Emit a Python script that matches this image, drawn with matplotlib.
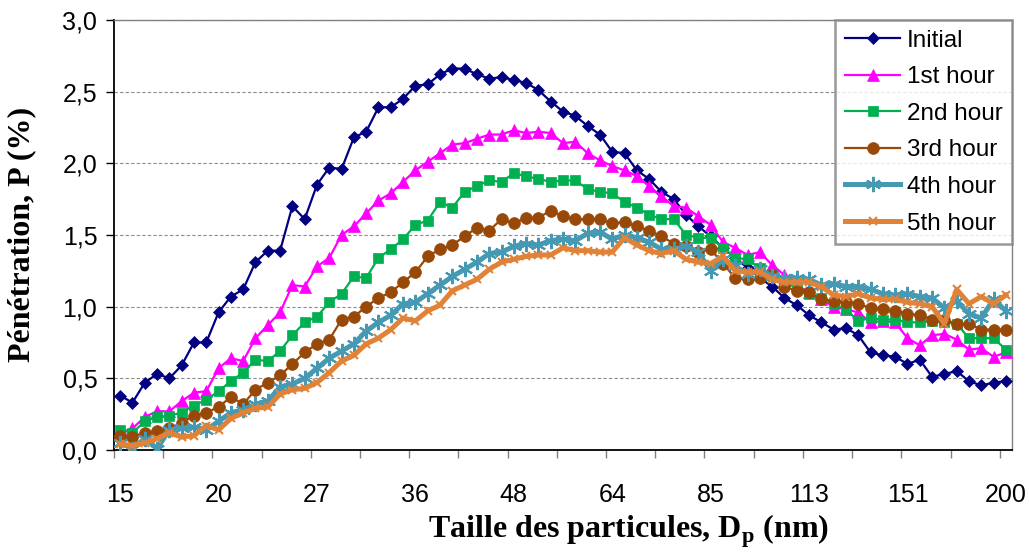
import matplotlib
matplotlib.use("Agg")
import matplotlib.pyplot as plt
import numpy as np

# Particle diameters (nm), SMPS channels (64 per decade)
diameters = [15.05, 15.60, 16.17, 16.77, 17.38, 18.02, 18.68, 19.36, 20.07, 20.81,
             21.57, 22.36, 23.18, 24.03, 24.91, 25.82, 26.76, 27.74, 28.76, 29.81,
             30.90, 32.03, 33.21, 34.42, 35.69, 36.99, 38.35, 39.75, 41.21, 42.72,
             44.28, 45.90, 47.59, 49.33, 51.14, 53.01, 54.95, 56.97, 59.05, 61.22,
             63.46, 65.78, 68.19, 70.69, 73.28, 75.97, 78.75, 81.63, 84.62, 87.72,
             90.94, 94.27, 97.72, 101.30, 105.01, 108.86, 112.85, 116.98, 121.27, 125.71,
             130.31, 135.09, 140.04, 145.17, 150.49, 156.00, 161.72, 167.64, 173.79, 180.15,
             186.75, 193.59, 200.68]

tick_labels = ["15", "20", "27", "36", "48", "64", "85", "113", "151", "200"]

initial = [0.38, 0.33, 0.47, 0.53, 0.50, 0.59, 0.75, 0.75, 0.96, 1.07,
           1.12, 1.31, 1.39, 1.39, 1.70, 1.61, 1.85, 1.97, 1.96, 2.18,
           2.22, 2.39, 2.39, 2.45, 2.54, 2.55, 2.62, 2.66, 2.66, 2.62,
           2.59, 2.60, 2.58, 2.56, 2.51, 2.43, 2.36, 2.33, 2.26, 2.20,
           2.08, 2.07, 1.95, 1.89, 1.80, 1.75, 1.64, 1.56, 1.49, 1.41,
           1.34, 1.27, 1.20, 1.14, 1.06, 1.01, 0.94, 0.89, 0.84, 0.85,
           0.80, 0.68, 0.66, 0.65, 0.60, 0.63, 0.51, 0.53, 0.55, 0.48,
           0.45, 0.47, 0.48]

hour1 = [0.12, 0.15, 0.23, 0.27, 0.27, 0.34, 0.40, 0.41, 0.57, 0.64,
         0.62, 0.78, 0.87, 0.96, 1.15, 1.14, 1.28, 1.34, 1.50, 1.56,
         1.65, 1.74, 1.79, 1.87, 1.95, 2.01, 2.07, 2.13, 2.14, 2.17,
         2.20, 2.20, 2.23, 2.21, 2.22, 2.21, 2.14, 2.15, 2.07, 2.02,
         1.98, 1.95, 1.91, 1.84, 1.77, 1.70, 1.69, 1.63, 1.57, 1.45,
         1.41, 1.36, 1.38, 1.29, 1.22, 1.15, 1.10, 1.05, 1.00, 0.98,
         0.96, 0.89, 0.90, 0.89, 0.78, 0.73, 0.80, 0.81, 0.77, 0.70,
         0.71, 0.65, 0.68]

hour2 = [0.14, 0.12, 0.20, 0.23, 0.24, 0.26, 0.31, 0.35, 0.41, 0.48,
         0.54, 0.63, 0.62, 0.69, 0.80, 0.89, 0.93, 1.03, 1.09, 1.21,
         1.20, 1.34, 1.40, 1.47, 1.57, 1.60, 1.73, 1.69, 1.80, 1.84,
         1.88, 1.87, 1.93, 1.91, 1.89, 1.87, 1.88, 1.88, 1.82, 1.80,
         1.79, 1.73, 1.69, 1.64, 1.61, 1.61, 1.50, 1.48, 1.48, 1.41,
         1.34, 1.33, 1.27, 1.22, 1.17, 1.13, 1.09, 1.06, 1.02, 0.98,
         0.90, 0.92, 0.91, 0.91, 0.89, 0.89, 0.90, 0.89, 0.88, 0.78,
         0.78, 0.78, 0.70]

hour3 = [0.10, 0.09, 0.12, 0.13, 0.15, 0.19, 0.24, 0.26, 0.30, 0.37,
         0.32, 0.42, 0.47, 0.52, 0.60, 0.68, 0.74, 0.77, 0.91, 0.93,
         1.00, 1.06, 1.10, 1.17, 1.24, 1.35, 1.40, 1.43, 1.49, 1.55,
         1.53, 1.61, 1.58, 1.62, 1.62, 1.67, 1.63, 1.61, 1.61, 1.61,
         1.58, 1.59, 1.56, 1.53, 1.49, 1.44, 1.42, 1.38, 1.40, 1.30,
         1.20, 1.19, 1.20, 1.22, 1.14, 1.11, 1.10, 1.05, 1.04, 1.03,
         1.02, 0.99, 0.98, 0.97, 0.95, 0.94, 0.91, 0.91, 0.88, 0.88,
         0.84, 0.84, 0.84]

hour4 = [0.05, 0.01, 0.08, 0.01, 0.14, 0.15, 0.16, 0.14, 0.20, 0.26,
         0.28, 0.32, 0.34, 0.44, 0.46, 0.50, 0.57, 0.64, 0.69, 0.74,
         0.83, 0.89, 0.94, 1.02, 1.03, 1.09, 1.15, 1.21, 1.26, 1.31,
         1.37, 1.38, 1.42, 1.44, 1.43, 1.46, 1.47, 1.46, 1.51, 1.52,
         1.47, 1.50, 1.48, 1.45, 1.40, 1.40, 1.42, 1.38, 1.25, 1.33,
         1.28, 1.23, 1.26, 1.21, 1.20, 1.20, 1.19, 1.15, 1.16, 1.14,
         1.14, 1.12, 1.09, 1.08, 1.09, 1.07, 1.06, 0.99, 1.04, 0.95,
         0.92, 1.05, 0.97]

hour5 = [0.04, 0.03, 0.05, 0.08, 0.12, 0.09, 0.10, 0.17, 0.14, 0.22,
         0.26, 0.29, 0.30, 0.39, 0.42, 0.43, 0.47, 0.54, 0.62, 0.66,
         0.74, 0.78, 0.84, 0.92, 0.90, 0.97, 1.01, 1.11, 1.15, 1.19,
         1.26, 1.31, 1.33, 1.35, 1.36, 1.36, 1.41, 1.39, 1.39, 1.38,
         1.38, 1.48, 1.43, 1.39, 1.37, 1.39, 1.33, 1.31, 1.30, 1.35,
         1.25, 1.24, 1.24, 1.19, 1.17, 1.17, 1.17, 1.14, 1.08, 1.07,
         1.09, 1.06, 1.05, 1.05, 1.03, 1.02, 1.00, 0.88, 1.12, 1.02,
         1.07, 1.02, 1.08]

series_names = ["Initial", "1st hour", "2nd hour", "3rd hour", "4th hour", "5th hour"]

plt.rcParams['font.family'] = ['Liberation Sans', 'DejaVu Sans']
plt.rcParams['mathtext.fontset'] = 'custom'
plt.rcParams['mathtext.rm'] = 'Liberation Serif:bold'
plt.rcParams['mathtext.bf'] = 'Liberation Serif:bold'

fig = plt.figure(figsize=(10.29, 5.52), dpi=100)
ax = fig.add_axes([0.1108, 0.1848, 0.8727, 0.7793])

x = np.arange(len(diameters))

styles = [
    dict(color='#000080', marker='D', ms=6.5, lw=1.6, mew=0.5),
    dict(color='#FF00FF', marker='^', ms=8.5, lw=1.6, mew=0.5),
    dict(color='#00B050', marker='s', ms=7, lw=1.6, mew=0.5),
    dict(color='#984807', marker='o', ms=8.5, lw=1.6, mew=0.5),
    dict(color='#4599B3', marker=(6, 2, 0), ms=11, lw=3.6, mew=1.5),
    dict(color='#E08238', marker='x', ms=6, lw=3.6, mew=1.5),
]
data = [initial, hour1, hour2, hour3, hour4, hour5]
for i, (name, y, st) in enumerate(zip(series_names, data, styles)):
    ax.plot(x, y, label=name, color=st['color'], marker=st['marker'],
            markersize=st['ms'], linewidth=st['lw'], markeredgewidth=st['mew'],
            markeredgecolor=st['color'], solid_joinstyle='round', zorder=3 + i)

ax.set_xlim(-0.5, len(diameters) - 0.5)
ax.set_ylim(0, 3.0)

# y axis
yt = np.arange(0, 3.01, 0.5)
ax.set_yticks(yt)
ax.set_yticklabels([f"{v:.1f}".replace('.', ',') for v in yt], fontsize=18)
ax.yaxis.grid(True, linestyle=(0, (3, 2)), color='#8c8c8c', linewidth=0.8)
ax.set_axisbelow(True)

# x axis: labels every 8 categories, tick marks every 4 category boundaries
label_pos = x[::8]
ax.set_xticks(label_pos)
ax.set_xticklabels(tick_labels, fontsize=18)
ax.tick_params(axis='x', which='major', length=0, pad=24)
ax.set_xticks(np.arange(-0.5, len(diameters) - 1, 4), minor=True)
ax.tick_params(axis='x', which='minor', length=6, width=1, color='#808080', direction='out')
ax.tick_params(axis='y', which='major', length=6, width=1, direction='out', pad=6)

for side in ['top', 'right']:
    ax.spines[side].set_color('#808080')
    ax.spines[side].set_linewidth(1.0)
for side in ['left', 'bottom']:
    ax.spines[side].set_color('black')
    ax.spines[side].set_linewidth(1.3)

ax.set_ylabel("Pénétration, P (%)", fontsize=23, fontweight='bold',
              family=['Liberation Serif'])
ax.yaxis.set_label_coords(-0.087, 0.5)
ax.set_xlabel(r"Taille des particules, D$_\mathbf{p}$ (nm)", fontsize=23,
              fontweight='bold', family=['Liberation Serif'])
ax.xaxis.set_label_coords(0.573, -0.145)

leg = ax.legend(loc='upper right', bbox_to_anchor=(1.0, 1.0), borderaxespad=0,
                fontsize=17.5, frameon=True, fancybox=False, handlelength=2.3,
                labelspacing=0.6, borderpad=0.4, handletextpad=0.25)
leg.get_frame().set_edgecolor('#808080')
leg.get_frame().set_linewidth(1.8)
leg.set_zorder(20)

fig.savefig("out.png", dpi=100)
